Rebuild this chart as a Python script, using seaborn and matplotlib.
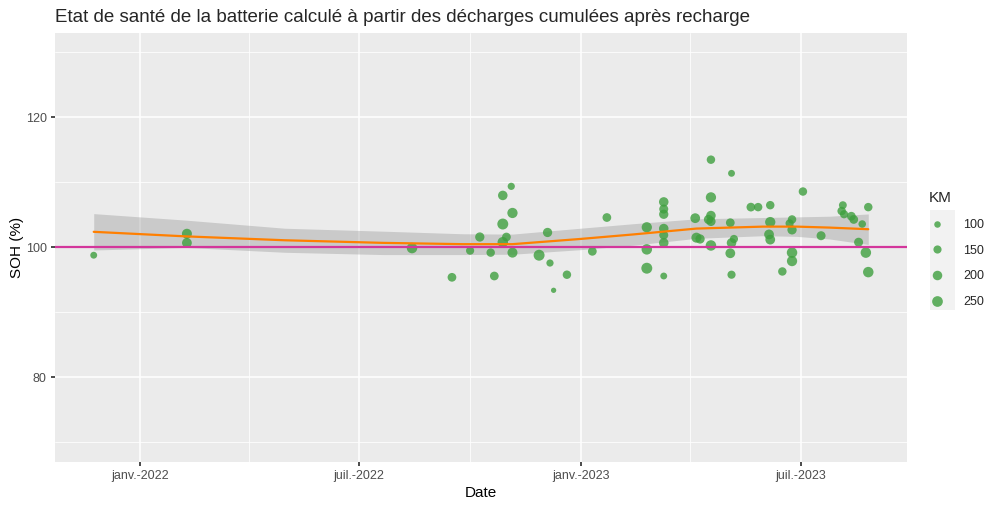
import numpy as np
import pandas as pd
import matplotlib
matplotlib.use("Agg")
import matplotlib.pyplot as plt
import matplotlib.dates as mdates
from matplotlib.lines import Line2D
from matplotlib.patches import Rectangle
import seaborn as sns

# ---- measured points ----
dates = ["2021-11-24", "2022-02-09", "2022-02-09", "2022-08-14", "2022-09-16",
         "2022-10-01", "2022-10-09", "2022-10-18", "2022-10-21", "2022-10-28",
         "2022-10-28", "2022-10-28", "2022-10-31", "2022-11-04", "2022-11-05",
         "2022-11-05", "2022-11-27", "2022-12-04", "2022-12-06", "2022-12-09",
         "2022-12-20", "2023-01-10", "2023-01-22", "2023-02-24", "2023-02-24",
         "2023-02-24", "2023-03-10", "2023-03-10", "2023-03-10", "2023-03-10",
         "2023-03-10", "2023-03-10", "2023-03-10", "2023-04-05", "2023-04-06",
         "2023-04-09", "2023-04-18", "2023-04-18", "2023-04-18", "2023-04-16",
         "2023-04-18", "2023-04-18", "2023-05-05", "2023-05-04", "2023-05-07",
         "2023-05-05", "2023-05-04", "2023-05-05", "2023-05-21", "2023-05-27",
         "2023-06-06", "2023-06-06", "2023-06-05", "2023-06-06", "2023-06-16",
         "2023-06-24", "2023-06-24", "2023-06-22", "2023-06-24", "2023-06-24",
         "2023-07-03", "2023-07-18", "2023-08-05", "2023-08-04", "2023-08-06",
         "2023-08-12", "2023-08-14", "2023-08-21", "2023-08-18", "2023-08-26",
         "2023-08-24", "2023-08-26"]
soh = [98.8, 102.1, 100.7, 99.9, 95.4,
       99.5, 101.6, 99.2, 95.6, 108.0,
       103.6, 100.8, 101.6, 109.4, 105.3,
       99.2, 98.8, 102.3, 97.6, 93.4,
       95.8, 99.4, 104.6, 103.1, 99.7,
       96.8, 107.0, 105.9, 105.1, 102.9,
       101.9, 100.7, 95.6, 104.5, 101.5,
       101.3, 113.5, 107.7, 104.9, 104.3,
       104.0, 100.3, 111.4, 103.8, 101.3,
       100.7, 99.1, 95.8, 106.2, 106.2,
       106.5, 103.9, 102.0, 101.2, 96.3,
       99.2, 97.9, 103.7, 104.3, 102.7,
       108.6, 101.8, 106.5, 105.6, 105.1,
       104.8, 104.3, 103.6, 100.8, 106.2,
       99.2, 96.2]
km = [110, 220, 210, 240, 170,
      150, 190, 160, 170, 200,
      260, 240, 170, 120, 230,
      220, 260, 190, 120, 70,
      160, 170, 170, 230, 240,
      260, 200, 180, 190, 200,
      180, 200, 110, 210, 220,
      190, 160, 230, 200, 190,
      190, 240, 110, 170, 150,
      200, 210, 150, 170, 160,
      160, 230, 210, 210, 160,
      240, 230, 150, 160, 190,
      160, 180, 140, 160, 150,
      170, 170, 130, 180, 160,
      240, 240]

# ---- smoothed trend (loess) and its confidence band ----
smooth_dates = ["2021-11-24", "2022-02-08", "2022-05-01", "2022-07-21",
                "2022-09-25", "2022-11-05", "2022-12-31", "2023-02-13",
                "2023-04-06", "2023-05-31", "2023-06-28", "2023-07-25",
                "2023-08-26"]
smooth_fit = [102.4, 101.7, 101.1, 100.7, 100.5, 100.5, 101.3, 102.0,
              102.9, 103.2, 103.2, 103.05, 102.8]
smooth_lo = [99.6, 100.0, 99.25, 98.9, 98.9, 98.95, 99.65, 100.35,
             101.4, 101.8, 101.7, 101.3, 100.45]
smooth_hi = [105.2, 104.2, 102.95, 102.5, 102.1, 102.05, 102.95, 103.65,
             104.4, 104.6, 104.7, 104.8, 105.15]

MAIN_TITLE = "Etat de santé de la batterie calculé à partir des décharges cumulées après recharge"
xtick_dates = ["2022-01-01", "2022-07-01", "2023-01-01", "2023-07-01"]
xtick_labels = ["janv.-2022", "juil.-2022", "janv.-2023", "juil.-2023"]
leg_vals = [100, 150, 200, 250]

df = pd.DataFrame({"Date": pd.to_datetime(dates), "SOH": soh, "KM": km})
smooth = pd.DataFrame({"Date": pd.to_datetime(smooth_dates), "fit": smooth_fit,
                       "lo": smooth_lo, "hi": smooth_hi})

# ---- figure ----
sns.set_theme(style="darkgrid")
plt.rcParams["font.family"] = ["Liberation Sans", "DejaVu Sans"]

fig = plt.figure(figsize=(10, 5.07), dpi=100)
ax = fig.add_axes([0.055, 0.089, 0.852, 0.846])
ax.set_facecolor("#EBEBEB")
fig.patch.set_facecolor("white")

ax.fill_between(smooth["Date"], smooth["lo"], smooth["hi"], color="#999999",
                alpha=0.4, lw=0, zorder=2)

PT_COLOR = "#3E9F3E"
sns.scatterplot(data=df, x="Date", y="SOH", size="KM", sizes=(12, 62),
                size_norm=(60, 260), color=PT_COLOR, alpha=0.8,
                edgecolor="none", ax=ax, zorder=3, legend=False)

sns.lineplot(data=smooth, x="Date", y="fit", color="#FF7F00", lw=1.6,
             ax=ax, zorder=4)
ax.axhline(100, color="#D3369B", lw=1.6, zorder=5)

xnum = mdates.date2num(df["Date"])
xmin, xmax = xnum.min(), xnum.max()
pad = (xmax - xmin) * 0.05
ax.set_xlim(xmin - pad, xmax + pad)
ax.set_ylim(67, 133)

ax.set_xticks(mdates.date2num(pd.to_datetime(xtick_dates)))
ax.set_xticklabels(xtick_labels)
ax.set_xticks(mdates.date2num(pd.to_datetime(["2022-04-01", "2022-10-01", "2023-04-01"])), minor=True)
ax.set_yticks([80, 100, 120])
ax.set_yticks([70, 90, 110, 130], minor=True)

ax.grid(which="major", color="white", lw=1.1)
ax.grid(which="minor", color="white", lw=0.55)
for s in ax.spines.values():
    s.set_visible(False)
ax.tick_params(axis="both", which="major", length=3, color="#333333",
               labelsize=9, labelcolor="#4D4D4D", pad=3, bottom=True, left=True)
ax.tick_params(which="minor", length=0)

ax.set_xlabel("Date", fontsize=11, color="black", labelpad=3)
ax.set_ylabel("SOH (%)", fontsize=11, color="black", labelpad=1)
fig.text(0.055, 0.965, MAIN_TITLE, fontsize=13.5, ha="left", va="center")

# ---- legend ----
def msize(v):
    s = 12 + (v - 60) / (260 - 60) * (62 - 12)
    return np.sqrt(s)


fig.patches.append(Rectangle((0.930, 1 - 310 / 507), 0.025, 100 / 507,
                             transform=fig.transFigure, facecolor="#F2F2F2",
                             edgecolor="none", zorder=0))
handles = [Line2D([], [], ls="none", marker="o", color=PT_COLOR, alpha=0.8,
                  markeredgewidth=0, markersize=msize(v)) for v in leg_vals]
leg = fig.legend(handles, [str(v) for v in leg_vals], title="KM",
                 loc="upper left", bbox_to_anchor=(0.918, 0.645),
                 frameon=False, fontsize=9, title_fontsize=11,
                 handlelength=1.2, handletextpad=1.5, labelspacing=1.1,
                 alignment="left")

fig.savefig("out.png", dpi=100)
